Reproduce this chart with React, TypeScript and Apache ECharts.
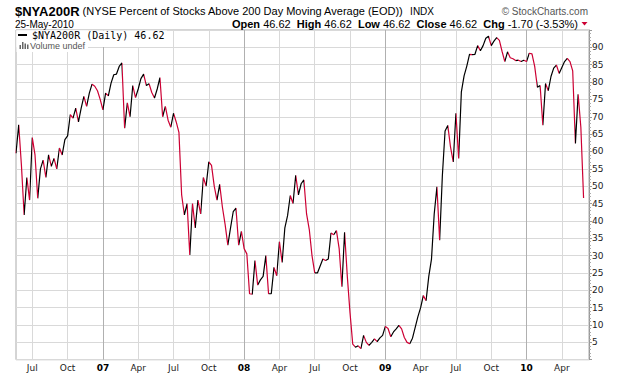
import React, { useEffect, useRef } from 'react';
import * as echarts from 'echarts';

// Weekly closes (first week 2006-05-26, last point 2010-05-25)
const firstWeek = '2006-05-26';
const lastDay = '2010-05-25';
const paddingDays = ['2010-05-28', '2010-06-04'];
const values: number[] = [
  59.5, 67.7, 56, 41.7, 52.5, 46, 64, 59, 46.5, 55,
  57.5, 52.5, 59, 55.7, 58, 55, 61, 59, 63.4, 64.5,
  70.6, 69.6, 72.5, 68.5, 72.5, 75.9, 73, 76.8, 79.4, 78.8,
  77.5, 75, 72, 76.8, 76, 79.7, 82.1, 82.3, 84.5, 85.5,
  66.7, 74, 70, 79, 75.5, 78, 81, 82.3, 79, 79.5,
  77, 75.4, 78, 81.3, 70, 73, 69, 67, 71, 68.5,
  65.5, 47.5, 41.7, 45, 30.2, 45, 38, 46, 42, 52.5,
  50, 57, 56, 50, 46, 50.5, 44, 39, 33, 38,
  42.7, 43.7, 33, 37, 32, 30.5, 19, 18.9, 28.6, 21.5,
  23, 24, 30, 19, 19, 26.6, 24.2, 34, 28, 38,
  41.5, 47.3, 45, 53.1, 47.5, 50.7, 51.8, 42, 37.5, 30,
  25, 25, 27, 29, 28.6, 29, 36.5, 36, 37.2, 32,
  21, 36.7, 24, 13.5, 4.5, 3.6, 4, 3.2, 7, 5,
  4.1, 5, 6, 5.2, 6.3, 7, 9.6, 9, 6.6, 8,
  8.9, 9.9, 8.9, 6.4, 5, 4.6, 6.2, 9.3, 12.4, 15,
  18.5, 17, 24, 29, 42, 49.8, 34.4, 53, 65.9, 67.5,
  61.3, 57, 71, 58, 77.2, 81.8, 84.6, 88, 87.9, 88,
  90.5, 89, 90.5, 92.6, 93.2, 90.5, 91.8, 92.8, 92, 88.8,
  85.9, 88.7, 87, 86.7, 86.2, 86.3, 85.9, 86.3, 85.9, 88.3,
  88.1, 84.5, 78.5, 79, 67.6, 79.6, 77.5, 81.6, 84, 84.9,
  82.5, 84.2, 85.9, 86.8, 85.9, 83.2, 62.3, 76.5, 67, 46.62,
];
const monthNames = ['Jan', 'Feb', 'Mar', 'Apr', 'May', 'Jun', 'Jul', 'Aug', 'Sep', 'Oct', 'Nov', 'Dec'];
const quoteLabels = ['Open', 'High', 'Low', 'Close'];
const quoteValues = [46.62, 46.62, 46.62, 46.62];
const changeValue = -1.7;
const changePct = -3.53;
const symbolName = '$NYA200R';
const subtitle = '(NYSE Percent of Stocks Above 200 Day Moving Average (EOD))';
const exchange = 'INDX';
const asOf = '25-May-2010';

function buildDates(): string[] {
  const out: string[] = [];
  const [y, m, d] = firstWeek.split('-').map(Number);
  const dt = new Date(Date.UTC(y, m - 1, d));
  for (let i = 0; i < values.length - 1; i++) {
    out.push(dt.toISOString().slice(0, 10));
    dt.setUTCDate(dt.getUTCDate() + 7);
  }
  out.push(lastDay);
  return out.concat(paddingDays);
}

const RED = '#cc0033';

export default function App() {
  const ref = useRef<HTMLDivElement>(null);
  useEffect(() => {
    if (!ref.current) return;
    const chart = echarts.init(ref.current, undefined, { renderer: 'svg' });
    const dates = buildDates();
    const month = (i: number) => +dates[i].slice(5, 7);
    const isQuarterStart = (i: number) =>
      i > 0 && i < dates.length && month(i) !== month(i - 1) && (month(i) - 1) % 3 === 0;
    const isYearStart = (i: number) => isQuarterStart(i) && month(i) === 1;

    const pieces: any[] = [];
    for (let i = 0; i < values.length - 1; i++) {
      const p: any = { gte: i, color: values[i + 1] >= values[i] ? '#000000' : RED };
      if (i === values.length - 2) p.lte = i + 1; else p.lt = i + 1;
      pieces.push(p);
    }

    const last = values[values.length - 1];
    const quoteText =
      quoteLabels.map((l, k) => `{b|${l}} ${quoteValues[k].toFixed(2)}`).join('  ') +
      `  {b|Chg} ${changeValue.toFixed(2)} (${changePct.toFixed(2)}%)`;

    const option: any = {
      animation: false,
      backgroundColor: '#ffffff',
      grid: { left: 16, right: 31, top: 30, bottom: 16.3, show: true, borderColor: '#aaaaaa', borderWidth: 1, backgroundColor: '#ffffff' },
      xAxis: [
        {
          type: 'category',
          data: dates,
          boundaryGap: false,
          axisLine: { show: false },
          axisTick: { show: false },
          axisLabel: {
            interval: (i: number) => isQuarterStart(i),
            formatter: (v: string) => {
              const m = +v.slice(5, 7);
              return m === 1 ? `{b|${v.slice(2, 4)}}` : monthNames[m - 1];
            },
            margin: 4,
            fontSize: 9,
            fontFamily: 'DejaVu Sans',
            color: '#222',
            rich: { b: { fontWeight: 'bold', fontSize: 9, fontFamily: 'DejaVu Sans', color: '#000' } },
          },
          splitLine: { show: true, interval: (i: number) => isQuarterStart(i), lineStyle: { color: '#d9d9d9', width: 1 } },
        },
        {
          type: 'category',
          data: dates,
          boundaryGap: false,
          position: 'top',
          axisLine: { show: false },
          axisTick: { show: false },
          axisLabel: { show: false },
          splitLine: { show: true, interval: (i: number) => isYearStart(i), lineStyle: { color: '#b0b0b0', width: 1 } },
        },
      ],
      yAxis: {
        type: 'value',
        position: 'right',
        min: 0,
        max: 95,
        interval: 5,
        axisLine: { show: true, lineStyle: { color: '#999999' } },
        axisTick: { show: true, length: 3, lineStyle: { color: '#999999' } },
        minorTick: { show: true, splitNumber: 5, length: 2, lineStyle: { color: '#aaaaaa' } },
        splitLine: { show: true, lineStyle: { color: '#d9d9d9', width: 1 } },
        axisLabel: {
          formatter: (v: number) => (v === 0 || v === 95 ? '' : String(v)),
          margin: 3,
          fontSize: 9,
          fontFamily: 'DejaVu Sans',
          color: '#222',
        },
      },
      visualMap: { show: false, type: 'piecewise', dimension: 0, seriesIndex: 0, pieces, outOfRange: { color: RED } },
      series: [
        {
          type: 'line',
          data: values,
          showSymbol: false,
          symbol: 'none',
          lineStyle: { width: 1.2 },
          z: 3,
        },
      ],
      graphic: [
        {
          type: 'text', x: 15, y: 11, z: 10,
          style: {
            text: `{t|${symbolName}} {s|${subtitle}}  {i|${exchange}}`,
            font: '11px "Liberation Sans"',
            fill: '#000',
            textVerticalAlign: 'middle',
            rich: {
              t: { font: 'bold 13px "Liberation Sans"', fill: '#000' },
              s: { font: '11px "Liberation Sans"', fill: '#000' },
              i: { font: '10px "Liberation Sans"', fill: '#000' },
            },
          },
        },
        {
          type: 'text', x: 588, y: 11, z: 10,
          style: { text: '\u00a9 StockCharts.com', font: '10px "Liberation Sans"', fill: '#555555', textAlign: 'right', textVerticalAlign: 'middle' },
        },
        {
          type: 'text', x: 15, y: 24, z: 10,
          style: { text: asOf, font: '10px "Liberation Sans"', fill: '#000', textVerticalAlign: 'middle' },
        },
        {
          type: 'text', x: 578, y: 24, z: 10,
          style: {
            text: quoteText,
            font: '11px "Liberation Sans"',
            fill: '#000',
            textAlign: 'right',
            textVerticalAlign: 'middle',
            rich: { b: { font: 'bold 11px "Liberation Sans"', fill: '#000' } },
          },
        },
        {
          type: 'polygon', z: 10,
          shape: { points: [[581.5, 22], [587.5, 22], [584.5, 25.5]] },
          style: { fill: RED },
        },
        { type: 'rect', z: 10, shape: { x: 16.5, y: 30.5, width: 150.5, height: 16.5 }, style: { fill: '#ffffff' } },
        { type: 'rect', z: 10, shape: { x: 16.5, y: 30.5, width: 71.5, height: 21.5 }, style: { fill: '#ffffff' } },
        { type: 'line', z: 11, shape: { x1: 18, y1: 35, x2: 27, y2: 35 }, style: { stroke: '#000', lineWidth: 2 } },
        {
          type: 'text', x: 32, y: 35, z: 11,
          style: { text: `${symbolName} (Daily) ${last.toFixed(2)}`, font: '10px "DejaVu Sans Mono"', fill: '#000', textVerticalAlign: 'middle' },
        },
        { type: 'rect', z: 11, shape: { x: 19.5, y: 45, width: 1.5, height: 4 }, style: { fill: '#666' } },
        { type: 'rect', z: 11, shape: { x: 22, y: 42, width: 1.5, height: 7 }, style: { fill: '#666' } },
        { type: 'rect', z: 11, shape: { x: 24.5, y: 43.5, width: 1.5, height: 5.5 }, style: { fill: '#666' } },
        { type: 'rect', z: 11, shape: { x: 27, y: 44.5, width: 1.5, height: 4.5 }, style: { fill: '#666' } },
        {
          type: 'text', x: 30, y: 45.5, z: 11,
          style: { text: 'Volume undef', font: '9px "Liberation Sans"', fill: '#555555', textVerticalAlign: 'middle' },
        },
      ],
    };
    chart.setOption(option);
    return () => chart.dispose();
  }, []);
  return (
    <div
      ref={ref}
      style={{ position: 'fixed', left: 0, top: 0, width: 620, height: 376, background: '#fff' }}
    />
  );
}
